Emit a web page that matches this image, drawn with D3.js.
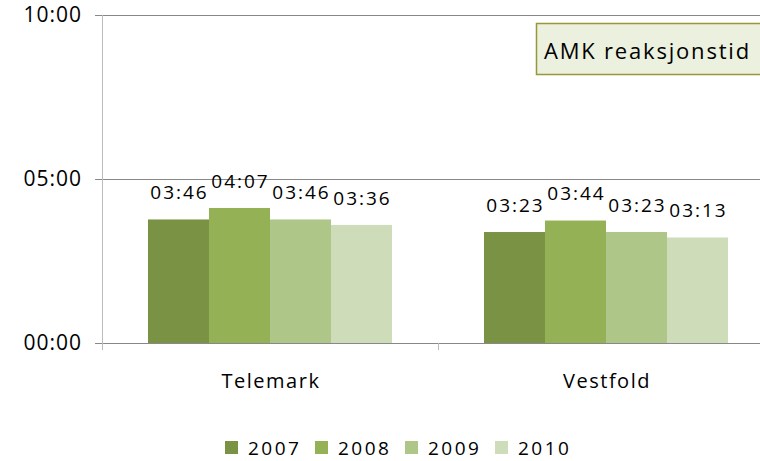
<!DOCTYPE html>
<html>
<head>
<meta charset="utf-8">
<script src="https://cdn.jsdelivr.net/npm/d3@7"></script>
<style>
  body { margin: 0; background: #fff; }
  svg { display: block; font-family: "Open Sans", sans-serif; }
</style>
</head>
<body>
<div id="chart"></div>
<script>
// data: response times in seconds
var categories = ["Telemark", "Vestfold"];
var years = ["2007", "2008", "2009", "2010"];
var telemark = [226, 247, 226, 216];
var vestfold = [203, 224, 203, 193];
var yTicks = [0, 300, 600];
var yTickLabels = ["00:00", "05:00", "10:00"];
var colors = ["#7a9244", "#94b155", "#aec788", "#cfdcb9"];

var svgWidth = 760;
var svgHeight = 461;

var svg = d3.select("#chart")
    .append("svg")
    .attr("width", svgWidth)
    .attr("height", svgHeight);

// seconds -> mm:ss
function fmt(s) {
    var m = Math.floor(s / 60), r = s % 60;
    return (m < 10 ? "0" : "") + m + ":" + (r < 10 ? "0" : "") + r;
}

var rows = categories.map(function (c, i) {
    var vals = i === 0 ? telemark : vestfold;
    return { name: c, values: years.map(function (y, j) { return { year: y, value: vals[j], idx: j }; }) };
});

var x0 = d3.scaleBand().domain(categories).range([102, 774]).padding(0);
var x1 = d3.scaleBand().domain(years).range([46, 290]).padding(0);
var y = d3.scaleLinear().domain([0, 600]).range([343, 15]);

// gridlines
svg.append("g")
    .selectAll("line")
    .data(yTicks)
    .enter()
    .append("line")
    .attr("x1", 95)
    .attr("x2", svgWidth)
    .attr("y1", d => y(d) + 0.5)
    .attr("y2", d => y(d) + 0.5)
    .attr("stroke", "#888")
    .attr("stroke-width", 1);

// y axis line
svg.append("line")
    .attr("x1", 102.5).attr("x2", 102.5)
    .attr("y1", y(600)).attr("y2", y(0) + 7)
    .attr("stroke", "#bbb");

// y tick labels
svg.append("g")
    .selectAll("text")
    .data(yTicks)
    .enter()
    .append("text")
    .attr("x", 82)
    .attr("y", d => y(d))
    .attr("dy", "0.35em")
    .attr("text-anchor", "end")
    .attr("font-size", "21px")
    .attr("letter-spacing", "1px")
    .attr("fill", "#000")
    .text((d, i) => yTickLabels[i]);

// x axis ticks between categories
svg.append("g")
    .selectAll("line")
    .data(categories)
    .enter()
    .append("line")
    .attr("x1", d => x0(d) + 0.5 + x0.bandwidth())
    .attr("x2", d => x0(d) + 0.5 + x0.bandwidth())
    .attr("y1", y(0))
    .attr("y2", y(0) + 7)
    .attr("stroke", "#bbb");

// bars
var groups = svg.append("g")
    .selectAll("g")
    .data(rows)
    .enter()
    .append("g")
    .attr("transform", d => `translate(${x0(d.name)},0)`);

groups.selectAll("rect")
    .data(d => d.values)
    .enter()
    .append("rect")
    .attr("x", d => x1(d.year))
    .attr("y", d => y(d.value))
    .attr("width", x1.bandwidth())
    .attr("height", d => y(0) - y(d.value))
    .attr("fill", d => colors[d.idx]);

groups.selectAll("text")
    .data(d => d.values)
    .enter()
    .append("text")
    .attr("x", d => x1(d.year) + x1.bandwidth() / 2 + 1)
    .attr("y", d => y(d.value) - 27)
    .attr("dy", "0.35em")
    .attr("text-anchor", "middle")
    .attr("font-size", "19px")
    .attr("letter-spacing", "2px")
    .attr("fill", "#000")
    .text(d => fmt(d.value));

// category labels
svg.append("g")
    .selectAll("text")
    .data(categories)
    .enter()
    .append("text")
    .attr("x", d => x0(d) + x0.bandwidth() / 2 + 1)
    .attr("y", 381)
    .attr("dy", "0.35em")
    .attr("text-anchor", "middle")
    .attr("font-size", "20px")
    .attr("letter-spacing", "1.5px")
    .attr("fill", "#000")
    .text(d => d);

// title box
svg.append("rect")
    .attr("x", 536.5)
    .attr("y", 23.5)
    .attr("width", 240)
    .attr("height", 51)
    .attr("fill", "#ebf1de")
    .attr("stroke", "#98983a")
    .attr("stroke-width", 1.5);

svg.append("text")
    .attr("x", 544)
    .attr("y", 51)
    .attr("dy", "0.35em")
    .attr("font-size", "22px")
    .attr("letter-spacing", "1.8px")
    .attr("fill", "#000")
    .text("AMK reaksjonstid");

// legend
var legend = svg.append("g")
    .selectAll("g")
    .data(years)
    .enter()
    .append("g")
    .attr("transform", (d, i) => `translate(${225 + i * 90},441)`);

legend.append("rect")
    .attr("width", 13)
    .attr("height", 13)
    .attr("fill", (d, i) => colors[i]);

legend.append("text")
    .attr("x", 23)
    .attr("y", 7)
    .attr("dy", "0.35em")
    .attr("font-size", "19px")
    .attr("letter-spacing", "2.5px")
    .attr("fill", "#000")
    .text(d => d);
</script>
</body>
</html>
